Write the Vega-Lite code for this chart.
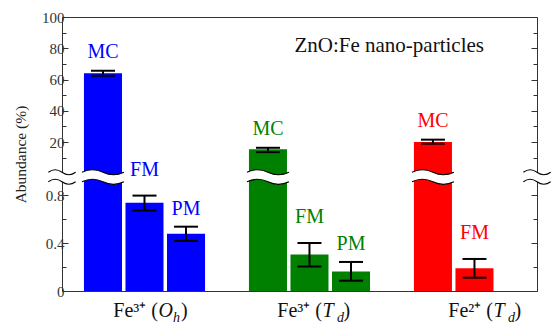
{
  "$schema": "https://vega.github.io/schema/vega-lite/v6.json",
  "width": 475,
  "height": 274,
  "autosize": {"type": "none"},
  "padding": {"left": 62, "top": 17, "right": 14, "bottom": 34},
  "background": "white",
  "config": {
    "view": {"stroke": null},
    "font": "Liberation Serif",
    "text": {"font": "Liberation Serif"},
    "style": {
      "guide-label": {"font": "Liberation Serif", "fontSize": 15, "fill": "#333333"},
      "guide-title": {"font": "Liberation Serif", "fontSize": 15, "fontWeight": "normal", "fill": "#222222"}
    },
    "axis": {"labelFont": "Liberation Serif", "titleFont": "Liberation Serif", "labelFontSize": 15, "titleFontSize": 15, "titleFontWeight": "normal", "domainColor": "#333333", "tickColor": "#333333", "labelColor": "#333333", "grid": false, "domainWidth": 1, "tickWidth": 1}
  },
  "title": {"text": "ZnO:Fe nano-particles", "anchor": "end", "frame": "group", "orient": "top", "offset": 0, "baseline": "alphabetic", "dx": -53, "dy": 63, "font": "Liberation Serif", "fontSize": 21, "fontWeight": "normal", "color": "#111111"},
  "datasets": {
    "bars": [
      {"group": "Fe3+ (Oh)", "type": "MC", "value": 64.0, "lo": 62.4, "hi": 65.6},
      {"group": "Fe3+ (Oh)", "type": "FM", "value": 0.735, "lo": 0.67, "hi": 0.795},
      {"group": "Fe3+ (Oh)", "type": "PM", "value": 0.478, "lo": 0.418, "hi": 0.536},
      {"group": "Fe3+ (Td)", "type": "MC", "value": 15.3, "lo": 13.5, "hi": 16.3},
      {"group": "Fe3+ (Td)", "type": "FM", "value": 0.305, "lo": 0.205, "hi": 0.40},
      {"group": "Fe3+ (Td)", "type": "PM", "value": 0.162, "lo": 0.086, "hi": 0.242},
      {"group": "Fe2+ (Td)", "type": "MC", "value": 20.0, "lo": 18.9, "hi": 21.5},
      {"group": "Fe2+ (Td)", "type": "FM", "value": 0.189, "lo": 0.111, "hi": 0.267}
    ],
    "labels": [
      {"group": "Fe3+ (Oh)", "ion": "Fe³⁺ (", "site": "O", "sub": "h"},
      {"group": "Fe3+ (Td)", "ion": "Fe³⁺ (", "site": "T", "sub": "d"},
      {"group": "Fe2+ (Td)", "ion": "Fe²⁺ (", "site": "T", "sub": "d"}
    ]
  },
  "resolve": {"scale": {"x": "independent"}, "axis": {"x": "independent", "y": "independent"}},
  "layer": [
    {
      "data": {"name": "bars"},
      "resolve": {"axis": {"x": "independent", "y": "independent"}},
      "layer": [
        {
          "mark": {"type": "bar"},
          "encoding": {
            "x": {"field": "group", "type": "nominal", "scale": {"domain": ["Fe3+ (Oh)", "Fe3+ (Td)", "Fe2+ (Td)"], "paddingInner": 0.242, "paddingOuter": 0.0605, "align": 1}, "axis": {"orient": "bottom", "labels": false, "ticks": false, "title": null, "domain": true}},
            "xOffset": {"field": "type", "type": "nominal", "scale": {"domain": ["MC", "FM", "PM"], "paddingInner": 0.084, "paddingOuter": 0.048}},
            "y": {"field": "value", "type": "quantitative", "scale": {"domain": [0, 0.9, 2, 100], "range": [274, 166, 153.125, 0], "zero": false, "nice": false}, "axis": {"orient": "left", "values": [0, 0.4, 0.8, 20, 40, 60, 80, 100], "labelExpr": "'' + datum.value", "tickSize": -6, "labelPadding": 4, "labelFont": "Liberation Serif", "labelFontSize": 15, "title": "Abundance (%)", "titleFont": "Liberation Serif", "titleFontSize": 15.5, "titleFontWeight": "normal", "titleColor": "#222222", "titlePadding": 13}},
            "y2": {"datum": 0},
            "color": {"field": "group", "type": "nominal", "scale": {"domain": ["Fe3+ (Oh)", "Fe3+ (Td)", "Fe2+ (Td)"], "range": ["#0000ff", "#008000", "#ff0000"]}, "legend": null}
          }
        },
        {
          "mark": {"type": "rule", "color": "black", "strokeWidth": 2},
          "encoding": {
            "x": {"field": "group", "type": "nominal", "axis": {"orient": "top", "labels": false, "ticks": false, "title": null, "domain": true}},
            "xOffset": {"field": "type", "type": "nominal"},
            "y": {"field": "lo", "type": "quantitative", "axis": {"orient": "right", "values": [0, 0.4, 0.8, 20, 40, 60, 80, 100], "labels": false, "tickSize": -6, "title": null}},
            "y2": {"field": "hi"}
          }
        },
        {
          "mark": {"type": "tick", "color": "black", "thickness": 2, "size": 24, "opacity": 1},
          "encoding": {
            "x": {"field": "group", "type": "nominal", "axis": null},
            "xOffset": {"field": "type", "type": "nominal"},
            "y": {"field": "lo", "type": "quantitative", "axis": {"orient": "left", "values": [0.2, 0.6, 10, 30, 50, 70, 90], "labels": false, "tickSize": -4, "domain": false, "title": null}}
          }
        },
        {
          "mark": {"type": "tick", "color": "black", "thickness": 2, "size": 24, "opacity": 1},
          "encoding": {
            "x": {"field": "group", "type": "nominal", "axis": null},
            "xOffset": {"field": "type", "type": "nominal"},
            "y": {"field": "hi", "type": "quantitative", "axis": {"orient": "right", "values": [0.2, 0.6, 10, 30, 50, 70, 90], "labels": false, "tickSize": -4, "domain": false, "title": null}}
          }
        },
        {
          "transform": [{"filter": "datum.type == 'MC'"}],
          "mark": {"type": "text", "baseline": "alphabetic", "dy": -13, "fontSize": 20, "font": "Liberation Serif"},
          "encoding": {
            "x": {"field": "group", "type": "nominal", "axis": null},
            "xOffset": {"field": "type", "type": "nominal"},
            "y": {"field": "hi", "type": "quantitative", "axis": null},
            "text": {"field": "type"},
            "color": {"field": "group", "type": "nominal", "legend": null}
          }
        },
        {
          "transform": [{"filter": "datum.type == 'FM'"}],
          "mark": {"type": "text", "baseline": "alphabetic", "dy": -20, "fontSize": 20, "font": "Liberation Serif"},
          "encoding": {
            "x": {"field": "group", "type": "nominal", "axis": null},
            "xOffset": {"field": "type", "type": "nominal"},
            "y": {"field": "hi", "type": "quantitative", "axis": null},
            "text": {"field": "type"},
            "color": {"field": "group", "type": "nominal", "legend": null}
          }
        },
        {
          "transform": [{"filter": "datum.type == 'PM'"}],
          "mark": {"type": "text", "baseline": "alphabetic", "dy": -12, "fontSize": 20, "font": "Liberation Serif"},
          "encoding": {
            "x": {"field": "group", "type": "nominal", "axis": null},
            "xOffset": {"field": "type", "type": "nominal"},
            "y": {"field": "hi", "type": "quantitative", "axis": null},
            "text": {"field": "type"},
            "color": {"field": "group", "type": "nominal", "legend": null}
          }
        },
        {
          "transform": [{"filter": "datum.type == 'MC'"}],
          "mark": {"type": "point", "filled": true, "fill": "white", "opacity": 1, "strokeWidth": 0, "size": 1600, "shape": "M -1.05 -0.24 C -0.7 -0.41 -0.35 -0.41 0 -0.24 C 0.35 -0.07 0.7 -0.07 1.05 -0.24 L 1.05 0.24 C 0.7 0.41 0.35 0.41 0 0.24 C -0.35 0.07 -0.7 0.07 -1.05 0.24 Z"},
          "encoding": {
            "x": {"field": "group", "type": "nominal", "axis": null},
            "xOffset": {"field": "type", "type": "nominal"},
            "y": {"datum": 1.41, "type": "quantitative", "axis": null}
          }
        },
        {
          "transform": [{"filter": "datum.type == 'MC'"}],
          "mark": {"type": "point", "filled": false, "stroke": "black", "opacity": 1, "strokeWidth": 1.1, "size": 1600, "shape": "M -1.05 -0.24 C -0.7 -0.41 -0.35 -0.41 0 -0.24 C 0.35 -0.07 0.7 -0.07 1.05 -0.24 M -1.05 0.24 C -0.7 0.07 -0.35 0.07 0 0.24 C 0.35 0.41 0.7 0.41 1.05 0.24"},
          "encoding": {
            "x": {"field": "group", "type": "nominal", "axis": null},
            "xOffset": {"field": "type", "type": "nominal"},
            "y": {"datum": 1.41, "type": "quantitative", "axis": null}
          }
        },
        {
          "data": {"name": "labels"},
          "transform": [{"filter": "datum.group == 'Fe3+ (Oh)'"}],
          "layer": [
            {"mark": {"type": "text", "align": "right", "baseline": "alphabetic", "dx": 13.5, "fontSize": 20, "color": "#111111"}, "encoding": {"text": {"field": "ion"}}},
            {"mark": {"type": "text", "align": "left", "baseline": "alphabetic", "dx": 14, "fontSize": 20, "fontStyle": "italic", "color": "#111111"}, "encoding": {"text": {"field": "site"}}},
            {"mark": {"type": "text", "align": "left", "baseline": "alphabetic", "dx": 28.5, "dy": 5, "fontSize": 14, "fontStyle": "italic", "color": "#111111"}, "encoding": {"text": {"field": "sub"}}},
            {"mark": {"type": "text", "align": "left", "baseline": "alphabetic", "dx": 36.5, "fontSize": 20, "color": "#111111", "text": ")"}, "encoding": {}}
          ],
          "encoding": {
            "x": {"field": "group", "type": "nominal", "axis": null},
            "y": {"datum": -0.217, "type": "quantitative", "axis": null}
          }
        },
        {
          "data": {"name": "labels"},
          "transform": [{"filter": "datum.group == 'Fe3+ (Td)'"}],
          "layer": [
            {"mark": {"type": "text", "align": "right", "baseline": "alphabetic", "dx": 12.5, "fontSize": 20, "color": "#111111"}, "encoding": {"text": {"field": "ion"}}},
            {"mark": {"type": "text", "align": "left", "baseline": "alphabetic", "dx": 13, "fontSize": 20, "fontStyle": "italic", "color": "#111111"}, "encoding": {"text": {"field": "site"}}},
            {"mark": {"type": "text", "align": "left", "baseline": "alphabetic", "dx": 27.5, "dy": 5, "fontSize": 14, "fontStyle": "italic", "color": "#111111"}, "encoding": {"text": {"field": "sub"}}},
            {"mark": {"type": "text", "align": "left", "baseline": "alphabetic", "dx": 34, "fontSize": 20, "color": "#111111", "text": ")"}, "encoding": {}}
          ],
          "encoding": {
            "x": {"field": "group", "type": "nominal", "axis": null},
            "y": {"datum": -0.217, "type": "quantitative", "axis": null}
          }
        },
        {
          "data": {"name": "labels"},
          "transform": [{"filter": "datum.group == 'Fe2+ (Td)'"}],
          "layer": [
            {"mark": {"type": "text", "align": "right", "baseline": "alphabetic", "dx": 18.5, "fontSize": 20, "color": "#111111"}, "encoding": {"text": {"field": "ion"}}},
            {"mark": {"type": "text", "align": "left", "baseline": "alphabetic", "dx": 19, "fontSize": 20, "fontStyle": "italic", "color": "#111111"}, "encoding": {"text": {"field": "site"}}},
            {"mark": {"type": "text", "align": "left", "baseline": "alphabetic", "dx": 33.5, "dy": 5, "fontSize": 14, "fontStyle": "italic", "color": "#111111"}, "encoding": {"text": {"field": "sub"}}},
            {"mark": {"type": "text", "align": "left", "baseline": "alphabetic", "dx": 40, "fontSize": 20, "color": "#111111", "text": ")"}, "encoding": {}}
          ],
          "encoding": {
            "x": {"field": "group", "type": "nominal", "axis": null},
            "y": {"datum": -0.217, "type": "quantitative", "axis": null}
          }
        }
      ]
    },
    {
      "data": {"values": [{}]},
      "layer": [
        {"mark": {"type": "point", "filled": true, "fill": "white", "opacity": 1, "strokeWidth": 0, "size": 676, "shape": "M -1.05 -0.365 C -0.7 -0.62 -0.35 -0.62 0 -0.365 C 0.35 -0.11 0.7 -0.11 1.05 -0.365 L 1.05 0.365 C 0.7 0.62 0.35 0.62 0 0.365 C -0.35 0.11 -0.7 0.11 -1.05 0.365 Z"},
         "encoding": {"x": {"datum": 0, "type": "quantitative", "scale": {"domain": [0, 1], "nice": false, "zero": false}, "axis": null}, "y": {"datum": 1.41, "type": "quantitative", "axis": null}}},
        {"mark": {"type": "point", "filled": false, "stroke": "black", "opacity": 1, "strokeWidth": 1.1, "size": 676, "shape": "M -1.05 -0.365 C -0.7 -0.62 -0.35 -0.62 0 -0.365 C 0.35 -0.11 0.7 -0.11 1.05 -0.365 M -1.05 0.365 C -0.7 0.11 -0.35 0.11 0 0.365 C 0.35 0.62 0.7 0.62 1.05 0.365"},
         "encoding": {"x": {"datum": 0, "type": "quantitative", "axis": null}, "y": {"datum": 1.41, "type": "quantitative", "axis": null}}},
        {"mark": {"type": "point", "filled": true, "fill": "white", "opacity": 1, "strokeWidth": 0, "size": 676, "shape": "M -1.05 -0.365 C -0.7 -0.62 -0.35 -0.62 0 -0.365 C 0.35 -0.11 0.7 -0.11 1.05 -0.365 L 1.05 0.365 C 0.7 0.62 0.35 0.62 0 0.365 C -0.35 0.11 -0.7 0.11 -1.05 0.365 Z"},
         "encoding": {"x": {"datum": 1, "type": "quantitative", "axis": null}, "y": {"datum": 1.41, "type": "quantitative", "axis": null}}},
        {"mark": {"type": "point", "filled": false, "stroke": "black", "opacity": 1, "strokeWidth": 1.1, "size": 676, "shape": "M -1.05 -0.365 C -0.7 -0.62 -0.35 -0.62 0 -0.365 C 0.35 -0.11 0.7 -0.11 1.05 -0.365 M -1.05 0.365 C -0.7 0.11 -0.35 0.11 0 0.365 C 0.35 0.62 0.7 0.62 1.05 0.365"},
         "encoding": {"x": {"datum": 1, "type": "quantitative", "axis": null}, "y": {"datum": 1.41, "type": "quantitative", "axis": null}}}
      ]
    }
  ]
}
